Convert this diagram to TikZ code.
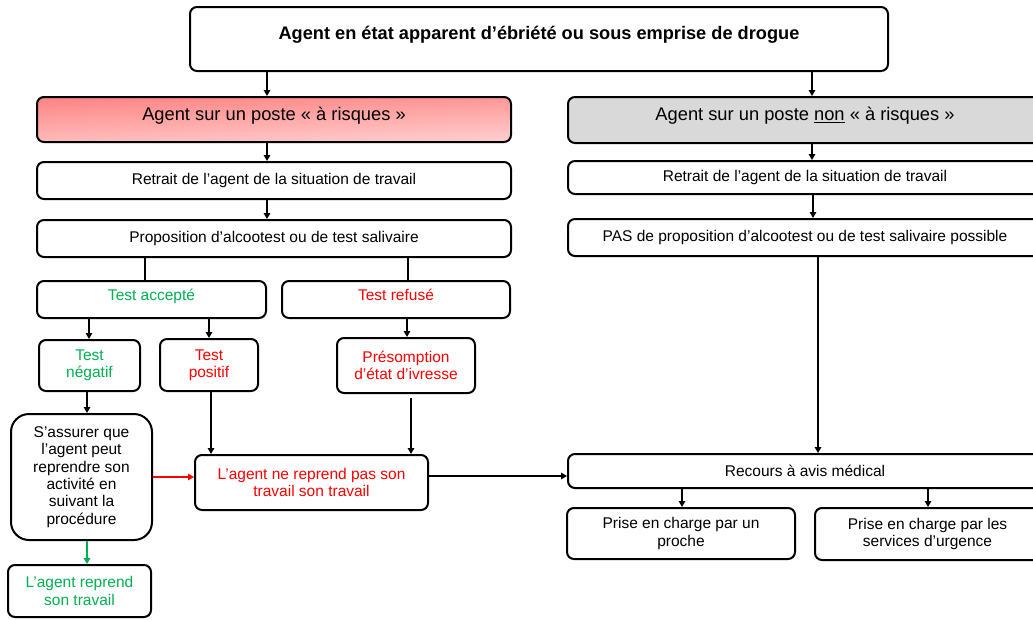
\documentclass[tikz,border=0pt]{standalone}
\usepackage{fontspec}
\setmainfont{Liberation Sans}
\usetikzlibrary{arrows.meta,calc}
\definecolor{okgreen}{RGB}{0,176,80}
\definecolor{boxgray}{RGB}{217,217,217}
\definecolor{salmonA}{RGB}{255,132,132}
\definecolor{salmonB}{RGB}{255,206,206}
\begin{document}
\begin{tikzpicture}[x=1pt,y=-1pt,
  box/.style={draw=black, line width=2pt, rounded corners=7pt, align=center,
    inner sep=0pt, font=\fontsize{15.5}{17.3}\selectfont},
  head/.style={box, font=\fontsize{18.3}{21}\selectfont},
  txtup/.style={text depth=#1},
  arr/.style={line width=2pt, -{Triangle[length=6pt,width=6.5pt]}},
  ln/.style={line width=2pt},
]
\useasboundingbox (0,0) rectangle (1033,619);
\clip (0,0) rectangle (1033,619);

% top
\node[box, font=\fontsize{18.2}{21}\bfseries\selectfont, minimum width=698pt, minimum height=64pt, txtup=13pt]
  (top) at (539,39) {Agent en état apparent d’ébriété ou sous emprise de drogue};

% left column
\node[head, minimum width=474pt, minimum height=45pt, top color=salmonA, bottom color=salmonB, shading angle=2, txtup=12pt]
  (risk) at (274,119.5) {Agent sur un poste « à risques »};
\node[box, minimum width=474pt, minimum height=37pt] (retL) at (274,180.5) {Retrait de l’agent de la situation de travail};
\node[box, minimum width=474pt, minimum height=37pt] (propL) at (274,238.5) {Proposition d’alcootest ou de test salivaire};
\node[box, minimum width=229pt, minimum height=37pt, text=okgreen, txtup=10pt] (acc) at (151.5,299.5) {Test accepté};
\node[box, minimum width=228pt, minimum height=37pt, text=red, txtup=10pt] (ref) at (396,299.5) {Test refusé};
\node[box, minimum width=101pt, minimum height=51pt, text=okgreen] (neg) at (89.5,365.5) {Test\\négatif};
\node[box, minimum width=98pt, minimum height=52pt, text=red] (pos) at (209,365) {Test\\positif};
\node[box, minimum width=138pt, minimum height=55pt, text=red] (pres) at (406,365.5) {Présomption\\d’état d’ivresse};
\node[box, rounded corners=18pt, minimum width=141pt, minimum height=126pt] (assur) at (81.5,477)
  {S’assurer que\\l’agent peut\\reprendre son\\activité en\\suivant la\\procédure};
\node[box, minimum width=143pt, minimum height=52pt, text=okgreen] (reprend) at (79.5,591) {L’agent reprend\\son travail};
\node[box, minimum width=233pt, minimum height=55pt, text=red] (nerep) at (311.5,482.5) {L’agent ne reprend pas son\\travail son travail};

% right column
\node[head, minimum width=474pt, minimum height=46pt, fill=boxgray, txtup=12pt]
  (nonrisk) at (805,120) {Agent sur un poste \underline{non} « à risques »};
\node[box, minimum width=474pt, minimum height=33pt] (retR) at (805,177.5) {Retrait de l’agent de la situation de travail};
\node[box, minimum width=474pt, minimum height=37pt] (pasR) at (805,237.5) {PAS de proposition d’alcootest ou de test salivaire possible};
\node[box, minimum width=474pt, minimum height=34pt] (recours) at (805,471) {Recours à avis médical};
\node[box, minimum width=228pt, minimum height=51pt] (proche) at (681,533.5) {Prise en charge par un\\proche};
\node[box, minimum width=225pt, minimum height=52pt] (services) at (927.5,534) {Prise en charge par les\\services d’urgence};

% connectors
\draw[arr] (top.south -| 267,0) -- (risk.north -| 267,0);
\draw[arr] (top.south -| 812,0) -- (nonrisk.north -| 812,0);
\draw[arr] (risk.south -| 267,0) -- (retL.north -| 267,0);
\draw[arr] (retL.south -| 267,0) -- (propL.north -| 267,0);
\draw[ln] (propL.south -| 145,0) -- (acc.north -| 145,0);
\draw[ln] (propL.south -| 408,0) -- (ref.north -| 408,0);
\draw[arr] (acc.south -| 89,0) -- (neg.north -| 89,0);
\draw[arr] (acc.south -| 209,0) -- (pos.north -| 209,0);
\draw[arr] (ref.south -| 407,0) -- (pres.north -| 407,0);
\draw[arr] (neg.south -| 87,0) -- (assur.north -| 87,0);
\draw[arr, okgreen] (assur.south -| 87,0) -- (reprend.north -| 87,0);
\draw[arr] (pos.south -| 211,0) -- (nerep.north -| 211,0);
\draw[arr] ([yshift=-4pt]pres.south -| 411,0) -- (nerep.north -| 411,0);
\draw[arr, red] (assur.east |- 0,477) -- (nerep.west |- 0,477);
\draw[arr] (nerep.east |- 0,476) -- (recours.west |- 0,476);

\draw[arr] (nonrisk.south -| 812,0) -- (retR.north -| 812,0);
\draw[arr] (retR.south -| 813,0) -- (pasR.north -| 813,0);
\draw[arr] (pasR.south -| 818,0) -- (recours.north -| 818,0);
\draw[arr] (recours.south -| 682,0) -- (proche.north -| 682,0);
\draw[arr] (recours.south -| 928,0) -- (services.north -| 928,0);
\end{tikzpicture}
\end{document}
